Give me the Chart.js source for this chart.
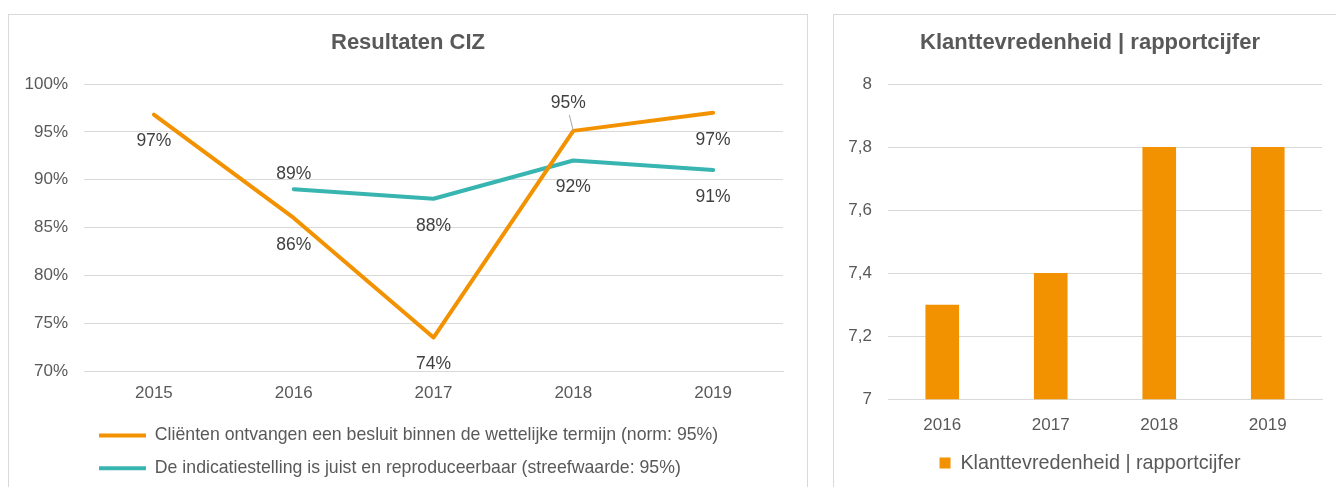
<!DOCTYPE html>
<html>
<head>
<meta charset="utf-8">
<script src="https://cdn.jsdelivr.net/npm/chart.js@4"></script>
<style>
  html, body { margin: 0; padding: 0; background: #fff; }
  body { width: 1336px; height: 487px; position: relative; overflow: hidden; }
  .box { position: absolute; border: 1px solid #d9d9d9; box-sizing: border-box; }
  #boxLeft { left: 8px; top: 14px; width: 800px; height: 500px; }
  #boxRight { left: 833px; top: 14px; width: 514px; height: 500px; }
  .wrap { position: absolute; }
  #wrapLeft { left: 9px; top: 15px; width: 798px; height: 472px; }
  #wrapRight { left: 834px; top: 15px; width: 512px; height: 472px; }
</style>
</head>
<body>
<div class="box" id="boxLeft"></div>
<div class="box" id="boxRight"></div>
<div class="wrap" id="wrapLeft"><canvas id="ciz"></canvas></div>
<div class="wrap" id="wrapRight"><canvas id="klant"></canvas></div>
<script>
// Resultaten CIZ
const cizYears = ['2015', '2016', '2017', '2018', '2019'];
const tijdigBesluit = [96.8, 86.0, 73.5, 95.1, 97.0];
const indicatieJuist = [null, 89.0, 88.0, 92.0, 91.0];
const tijdigLabel = 'Cliënten ontvangen een besluit binnen de wettelijke termijn (norm: 95%)';
const juistLabel = 'De indicatiestelling is juist en reproduceerbaar (streefwaarde: 95%)';

// Klanttevredenheid
const klantYears = ['2016', '2017', '2018', '2019'];
const rapportcijfer = [7.3, 7.4, 7.8, 7.8];
const klantLabel = 'Klanttevredenheid | rapportcijfer';

const ORANJE = '#f39200';
const TEAL = '#38b5b0';
const GRIJS = '#595959';
const RASTER = '#d9d9d9';
const FONT = "'Liberation Sans', Arial, sans-serif";

Chart.defaults.font.family = FONT;
Chart.defaults.color = GRIJS;

// label placement per point (pixels from the point, negative = above)
const tijdigOffsets = [27, 27, 27, -28, 27];
const juistOffsets = [null, -15, 27, 27, 27];

// simpele datalabels, Chart.js heeft die niet ingebouwd
const pointLabels = {
  id: 'pointLabels',
  afterDatasetsDraw(chart) {
    const ctx = chart.ctx;
    ctx.save();
    ctx.font = '17.5px ' + FONT;
    ctx.fillStyle = '#404040';
    ctx.textAlign = 'center';
    ctx.textBaseline = 'middle';
    chart.data.datasets.forEach((ds, di) => {
      const meta = chart.getDatasetMeta(di);
      meta.data.forEach((pt, i) => {
        const v = ds.data[i];
        if (v === null) return;
        const dy = ds.labelOffsets[i];
        let lx = pt.x;
        if (dy < -20) {
          // label ver boven het punt: met verbindingslijntje
          lx = pt.x - 5;
          ctx.strokeStyle = '#a6a6a6';
          ctx.lineWidth = 1;
          ctx.beginPath();
          ctx.moveTo(lx + 1, pt.y + dy + 12);
          ctx.lineTo(pt.x, pt.y);
          ctx.stroke();
        }
        ctx.fillText(Math.round(v) + '%', lx, pt.y + dy);
      });
    });
    ctx.restore();
  }
};

// lege as rechts, houdt ruimte vrij zonder de titel te verschuiven
const spacerAxis = {
  position: 'right',
  display: true,
  ticks: { display: false },
  grid: { display: false, drawTicks: false },
  border: { display: false },
  afterFit(scale) { scale.width = 24; }
};

new Chart(document.getElementById('ciz'), {
  type: 'line',
  data: {
    labels: cizYears,
    datasets: [{
      label: tijdigLabel,
      data: tijdigBesluit,
      labelOffsets: tijdigOffsets,
      borderColor: ORANJE,
      backgroundColor: ORANJE,
      borderWidth: 4,
      borderCapStyle: 'round',
      borderJoinStyle: 'round',
      pointRadius: 0,
      tension: 0
    }, {
      label: juistLabel,
      data: indicatieJuist,
      labelOffsets: juistOffsets,
      borderColor: TEAL,
      backgroundColor: TEAL,
      borderWidth: 4,
      borderCapStyle: 'round',
      borderJoinStyle: 'round',
      pointRadius: 0,
      tension: 0
    }]
  },
  plugins: [pointLabels],
  options: {
    responsive: true,
    maintainAspectRatio: false,
    animation: false,
    layout: { padding: 0 },
    plugins: {
      title: {
        display: true,
        text: 'Resultaten CIZ',
        color: GRIJS,
        font: { size: 22, weight: 'bold' },
        padding: { top: 15, bottom: 27.6 }
      },
      legend: {
        position: 'bottom',
        align: 'start',
        fullSize: false,
        labels: {
          usePointStyle: true,
          pointStyle: 'line',
          pointStyleWidth: 47,
          padding: 15,
          color: GRIJS,
          font: { size: 17.7 }
        }
      },
      tooltip: { enabled: false }
    },
    scales: {
      x: {
        offset: true,
        grid: { display: false, drawTicks: false, offset: true },
        border: { display: true, color: RASTER, width: 1 },
        ticks: { padding: 12, font: { size: 17 }, color: GRIJS },
        afterFit(scale) { scale.height = 40.6; }
      },
      y: {
        min: 70,
        max: 100,
        ticks: {
          stepSize: 5,
          padding: 16,
          font: { size: 17 },
          color: GRIJS,
          callback: v => v + '%'
        },
        grid: { color: RASTER, lineWidth: 1, drawTicks: false },
        border: { display: false },
        afterFit(scale) { scale.width = 75; }
      },
      spacer: spacerAxis
    }
  }
});

new Chart(document.getElementById('klant'), {
  type: 'bar',
  data: {
    labels: klantYears,
    datasets: [{
      label: klantLabel,
      data: rapportcijfer,
      backgroundColor: ORANJE,
      borderWidth: 0,
      categoryPercentage: 1,
      barPercentage: 0.31
    }]
  },
  options: {
    responsive: true,
    maintainAspectRatio: false,
    animation: false,
    layout: { padding: { left: 0, right: 0, top: 0, bottom: 4 } },
    plugins: {
      title: {
        display: true,
        text: klantLabel,
        color: GRIJS,
        font: { size: 22, weight: 'bold' },
        padding: { top: 15, bottom: 27.6 }
      },
      legend: {
        position: 'bottom',
        labels: {
          boxWidth: 11,
          boxHeight: 11,
          padding: 10,
          color: GRIJS,
          font: { size: 19.8 }
        }
      },
      tooltip: { enabled: false }
    },
    scales: {
      x: {
        grid: { display: false, drawTicks: false },
        border: { display: true, color: RASTER, width: 1 },
        ticks: { padding: 16, font: { size: 17 }, color: GRIJS },
        afterFit(scale) { scale.height = 44; }
      },
      y: {
        min: 7,
        max: 8,
        ticks: {
          stepSize: 0.2,
          padding: 16,
          font: { size: 17 },
          color: GRIJS,
          callback: v => String(Number(v.toFixed(1))).replace('.', ',')
        },
        grid: { color: RASTER, lineWidth: 1, drawTicks: false },
        border: { display: false },
        afterFit(scale) { scale.width = 54; }
      },
      spacer: spacerAxis
    }
  }
});
</script>
</body>
</html>
